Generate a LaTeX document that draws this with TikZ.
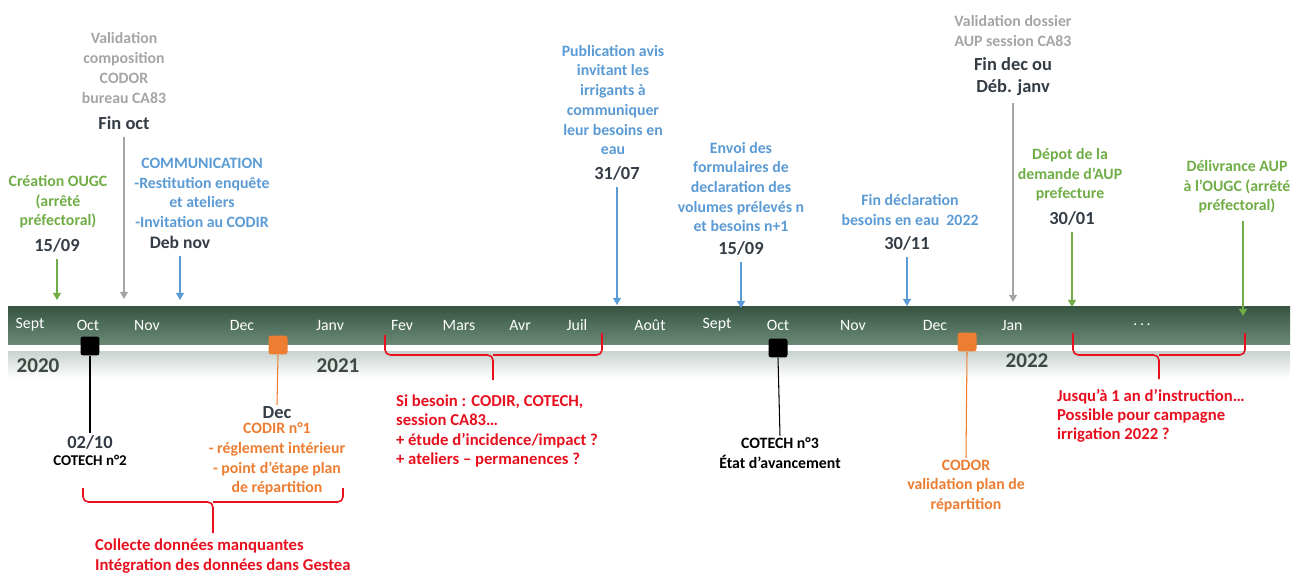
\documentclass[tikz,border=0pt]{standalone}
\usepackage{fontspec}
\setmainfont{Carlito}
\usetikzlibrary{arrows.meta}
\definecolor{vert}{RGB}{112,173,71}
\definecolor{bleu}{RGB}{91,155,213}
\definecolor{gris}{RGB}{165,165,165}
\definecolor{orangeo}{RGB}{237,125,49}
\definecolor{rouge}{RGB}{232,16,30}
\definecolor{sombre}{RGB}{52,60,70}
\definecolor{annee}{RGB}{60,74,66}
\definecolor{bandeh}{RGB}{55,84,67}
\definecolor{bandeb}{RGB}{106,138,118}
\definecolor{gbande}{RGB}{200,210,206}
\begin{document}
\begin{tikzpicture}[x=0.02cm,y=-0.02cm,
  txt/.style={font=\fontsize{9}{11.2}\selectfont\bfseries,align=center,inner sep=1pt},
  date/.style={font=\fontsize{10.5}{12.5}\selectfont\bfseries,text=sombre,align=center,inner sep=1pt},
  mois/.style={font=\fontsize{9}{10}\selectfont,text=white,inner sep=1pt},
  an/.style={font=\fontsize{12}{14}\selectfont\bfseries,text=annee,inner sep=1pt},
  rtxt/.style={font=\fontsize{9.5}{11}\selectfont\bfseries,text=rouge,align=left,inner sep=1pt,anchor=west},
  fl/.style={line width=0.6pt,-{Triangle[width=4.5pt,length=4pt]},shorten <=3pt},
  trait/.style={line width=0.6pt},
  carre/.style={minimum size=0.38cm,rounded corners=1.5pt,inner sep=0pt},
  acc/.style={rouge,line width=0.9pt,rounded corners=3pt}]
\useasboundingbox (0,0) rectangle (1301,574);
\shade[top color=bandeh,bottom color=bandeb] (8,306) rectangle (1290,345);
\fill[white] (8,345) rectangle (1290,351);
\shade[top color=gbande,bottom color=white] (8,351) rectangle (1290,378);
\foreach \x/\m in {30/Sept,88/Oct,147/Nov,242/Dec,330/Janv,402/Fev,459/Mars,520/Avr,577/Juil,650/Août,717/Sept,778/Oct,853/Nov,935/Dec,1012/Jan,1142/{.\,.\,.}}
  \node[mois] (m\x) at (\x,325) {\m};
\node[an] (a2020) at (38,366) {2020};
\node[an] (a2021) at (338,366) {2021};
\node[an] (a2022) at (1027,361) {2022};
\node[txt,text=vert] (creat) at (58,202) {Création OUGC\\(arrêté\\préfectoral)};
\node[date] (d1509a) at (57,245) {15/09};
\coordinate (t1) at (57,300);
\draw[fl,vert] (d1509a.south) -- (t1);
\node[txt,text=gris] (valc) at (124,68) {Validation\\composition\\CODOR\\bureau CA83};
\node[date] (finoct) at (124,123) {Fin oct};
\coordinate (t2) at (124,299);
\draw[fl,gris] (finoct.south) -- (t2);
\node[txt,text=bleu] (comm) at (202,193) {COMMUNICATION\\-Restitution enquête\\et ateliers\\-Invitation au CODIR};
\node[date,font=\fontsize{10}{12}\selectfont\bfseries] (debnov) at (180,242) {Deb nov};
\coordinate (t3) at (180,300);
\draw[fl,bleu] (debnov.south) -- (t3);
\node[txt,text=bleu] (pub) at (613,100) {Publication avis\\invitant les\\irrigants à\\communiquer\\leur besoins en\\eau};
\node[date] (d3107) at (617,173) {31/07};
\coordinate (t4) at (617,305);
\draw[fl,bleu] (d3107.south) -- (t4);
\node[txt,text=bleu] (envoi) at (741,187) {Envoi des\\formulaires de\\declaration des\\volumes prélevés n\\et besoins n+1};
\node[date] (d1509b) at (741,248) {15/09};
\coordinate (t5) at (741,308);
\draw[fl,bleu] (d1509b.south) -- (t5);
\node[txt,text=bleu] (findecl) at (910,210) {Fin déclaration\\besoins en eau~~2022};
\node[date] (d3011) at (907,243) {30/11};
\coordinate (t6) at (907,306);
\draw[fl,bleu] (d3011.south) -- (t6);
\node[txt,text=gris] (valdos) at (1013,31) {Validation dossier\\AUP session CA83};
\node[date] (findec) at (1013,77) {Fin dec ou\\Déb. janv};
\coordinate (t7) at (1013,302);
\draw[fl,gris] (findec.south) -- (t7);
\node[txt,text=vert] (depot) at (1070,175) {Dépot de la\\demande d'AUP\\prefecture};
\node[date] (d3001) at (1072,218) {30/01};
\coordinate (t8) at (1072,307);
\draw[fl,vert] (d3001.south) -- (t8);
\node[txt,text=vert] (deliv) at (1237,187) {Délivrance AUP\\à l'OUGC (arrêté\\préfectoral)};
\coordinate (t9) at (1243,316);
\draw[fl,vert] (deliv.south -| t9) -- (t9);
\node[carre,fill=black] (c1) at (90,346) {};
\node[date] (d0210) at (90,442) {02/10};
\node[txt,text=black,font=\fontsize{8.5}{10}\selectfont\bfseries] (cot2) at (90,460) {COTECH n°2};
\draw[trait] (c1.south) -- (d0210.north);
\node[carre,fill=orangeo] (c2) at (278,345) {};
\node[date] (ddec) at (277,413) {Dec};
\node[txt,text=orangeo] (codir) at (277,459) {CODIR n°1\\- réglement intérieur\\- point d'étape plan\\de répartition};
\draw[trait,orangeo] (c2.south) -- (ddec.north);
\draw[acc] (83,488) |- (213,502) -- (213,533);
\draw[acc] (343,488) |- (213,502);
\node[rtxt] (collecte) at (93,556) {Collecte données manquantes\\Intégration des données dans Gestea};
\draw[acc] (385,335) |- (493,355) -- (493,380);
\draw[acc] (602,333) |- (493,355);
\node[rtxt] (besoin) at (394,431) {Si besoin : CODIR, COTECH,\\session CA83…\\+ étude d'incidence/impact ?\\+ ateliers – permanences ?};
\node[carre,fill=black] (c3) at (778,348) {};
\node[txt,text=black] (cot3) at (780,453) {COTECH n°3\\État d'avancement};
\draw[trait] (c3.south) -- (cot3.north);
\node[carre,fill=orangeo] (c4) at (967,342) {};
\node[txt,text=orangeo] (codor) at (966,486) {CODOR\\validation plan de\\répartition};
\draw[trait,orangeo] (c4.south) -- (codor.north);
\draw[acc] (1073,333) |- (1159,355) -- (1159,379);
\draw[acc] (1245,333) |- (1159,355);
\node[rtxt] (jusqua) at (1055,416) {Jusqu'à 1 an d'instruction…\\Possible pour campagne\\irrigation 2022 ?};
\end{tikzpicture}
\end{document}
